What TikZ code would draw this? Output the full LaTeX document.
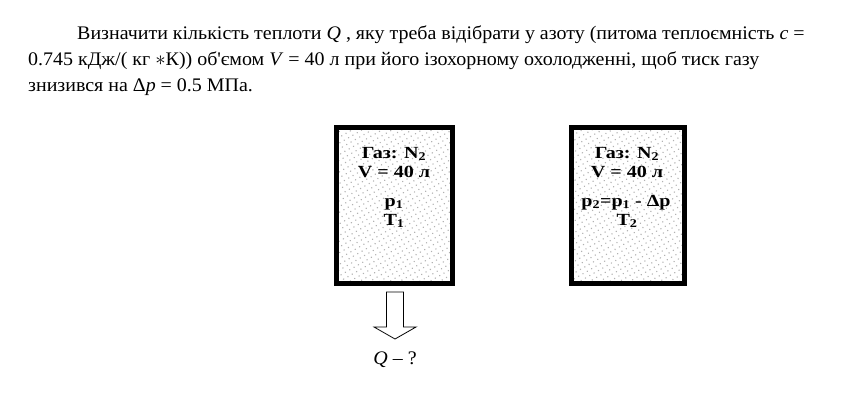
\documentclass[tikz,border=0pt]{standalone}
\usepackage{fontspec}
\setmainfont{Liberation Serif}
\newfontfamily\boxfont[FakeStretch=1.18]{Liberation Serif}
\newfontfamily\parafont[FakeStretch=1.04]{Liberation Serif}
\usetikzlibrary{patterns.meta}
\begin{document}
\begin{tikzpicture}[x=1pt,y=-1pt,
  para/.style={anchor=base west,inner sep=0pt,font=\parafont\fontsize{19.2}{20}\selectfont},
  boxlbl/.style={anchor=base,inner sep=0pt,font=\boxfont\fontsize{17}{18}\selectfont\bfseries},
  vessel/.style={line width=5pt,draw=black,
    pattern={Dots[distance=5pt,radius=0.8pt,angle=30]},pattern color=gray!60},
  hollowarrow/.style={draw=black,line width=0.8pt,fill=white}]
\useasboundingbox (0,0) rectangle (866,414);
% paragraph
\node[para] (l1) at (77,40) {Визначити кількість теплоти \textit{Q} , яку треба відібрати у азоту (питома теплоємність \textit{c} =};
\node[para] (l2) at (28,66) {0.745 кДж/( кг $\ast$К)) об\textquotesingle ємом \textit{V} = 40 л при його ізохорному охолодженні, щоб тиск газу};
\node[para] (l3) at (28,92) {знизився на Δ\textit{p} = 0.5 МПа.};
% vessels
\draw[vessel] (336.5,127.5) rectangle (452.5,283.5);
\draw[vessel] (571.5,127.5) rectangle (684.5,283.5);
% vessel 1 labels
\node[boxlbl] (g1) at (394,158) {Газ: N\textsubscript{2}};
\node[boxlbl] (v1) at (394,178) {V = 40 л};
\node[boxlbl] (p1) at (394,206) {p\textsubscript{1}};
\node[boxlbl] (t1) at (394,225) {T\textsubscript{1}};
% vessel 2 labels
\node[boxlbl] (g2) at (627,158) {Газ: N\textsubscript{2}};
\node[boxlbl] (v2) at (627,178) {V = 40 л};
\node[boxlbl] (p2) at (626,206) {p\textsubscript{2}=p\textsubscript{1} - Δp};
\node[boxlbl] (t2) at (627,225) {T\textsubscript{2}};
% hollow arrow
\coordinate (atip) at (395,339);
\draw[hollowarrow] (386.5,292) -- (403.5,292) -- (403.5,327) -- (416,327) -- (atip)
  -- (374,327) -- (386.5,327) -- cycle;
\node[anchor=base,inner sep=0pt,font=\parafont\fontsize{19.2}{20}\selectfont] (q) at (395,364) {\textit{Q} – ?};
\end{tikzpicture}
\end{document}
